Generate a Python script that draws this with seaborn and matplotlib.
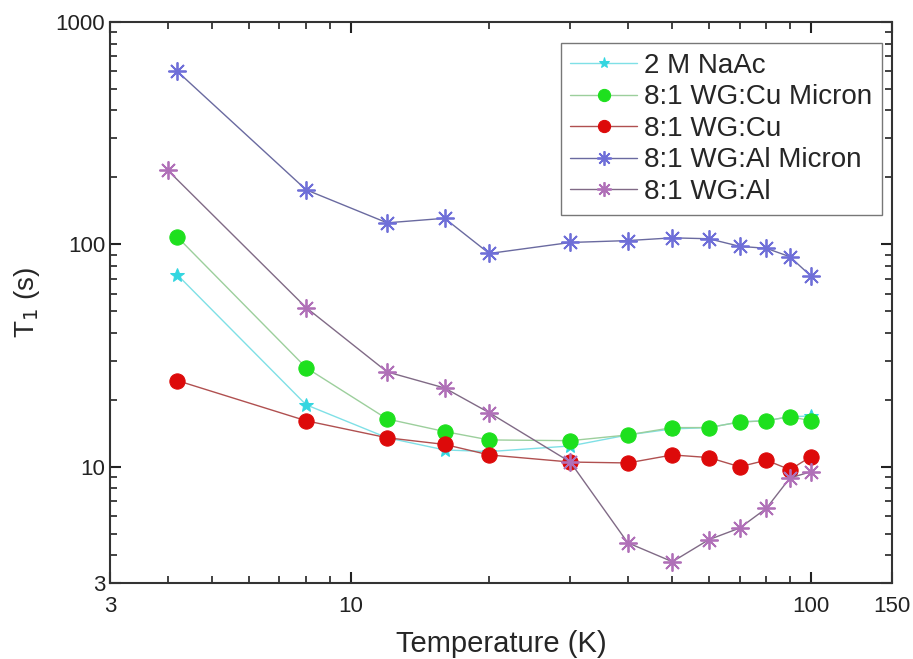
import numpy as np
import pandas as pd
import matplotlib
matplotlib.use('Agg')
import matplotlib.pyplot as plt
import seaborn as sns
from matplotlib.ticker import FixedLocator, LogLocator, NullFormatter, FixedFormatter

# =====================
# Data
# =====================
temp_a = [4.2, 8, 12, 16, 20, 30, 40, 50, 60, 70, 80, 90, 100]
temp_al = [4.0, 8, 12, 16, 20, 30, 40, 50, 60, 70, 80, 90, 100]

naac = [73, 19.0, 13.5, 11.9, 11.7, 12.4, 13.9, 14.8, 15.0, 15.9, 16.1, 16.8, 16.9]
cu_micron = [108, 27.9, 16.4, 14.4, 13.2, 13.1, 13.9, 15.0, 15.0, 15.9, 16.1, 16.8, 16.1]
cu = [24.4, 16.1, 13.5, 12.6, 11.3, 10.5, 10.4, 11.3, 11.0, 10.0, 10.7, 9.7, 11.1]
al_micron = [600, 176, 125, 131, 91, 102, 104, 107, 106, 98, 96, 88, 72]
al = [216, 52, 26.7, 22.6, 17.5, 10.5, 4.55, 3.74, 4.7, 5.3, 6.5, 8.9, 9.5]

x_ticks = [3, 10, 100, 150]
y_ticks = [3, 10, 100, 1000]

# =====================
# Style
# =====================
sns.set_style('ticks')
plt.rcParams['font.family'] = ['Liberation Sans', 'DejaVu Sans']
plt.rcParams['xtick.direction'] = 'in'
plt.rcParams['ytick.direction'] = 'in'

fig = plt.figure(figsize=(9.13, 6.59), dpi=100)
ax = fig.add_axes([0.1205, 0.1153, 0.8565, 0.8513])

series = [
    (temp_a, naac, '2 M NaAc', dict(marker='*', color='#7fe0e6', markerfacecolor='#33d6e0',
                                     markeredgecolor='#33d6e0', markersize=10)),
    (temp_a, cu_micron, '8:1 WG:Cu Micron', dict(marker='o', color='#9ccf9c', markerfacecolor='#1ee01e',
                                                  markeredgecolor='#1ee01e', markersize=11)),
    (temp_a, cu, '8:1 WG:Cu', dict(marker='o', color='#b05050', markerfacecolor='#dd0a0a',
                                    markeredgecolor='#dd0a0a', markersize=11)),
    (temp_a, al_micron, '8:1 WG:Al Micron', dict(marker=(8, 2, 0), color='#6a6aa0', markerfacecolor='#20207a',
                                                  markeredgecolor='#6f6fd8', markersize=13, markeredgewidth=1.3)),
    (temp_al, al, '8:1 WG:Al', dict(marker=(8, 2, 0), color='#806a86', markerfacecolor='#5a1a5a',
                                     markeredgecolor='#b070b8', markersize=13, markeredgewidth=1.3)),
]

for xs, ys, name, kw in series:
    df = pd.DataFrame({'T': xs, 'T1': ys})
    sns.lineplot(data=df, x='T', y='T1', ax=ax, label=name, linewidth=1.0, **kw)

ax.set_xscale('log')
ax.set_yscale('log')
ax.set_xlim(3, 150)
ax.set_ylim(3, 1000)

ax.xaxis.set_major_locator(FixedLocator(x_ticks))
ax.xaxis.set_major_formatter(FixedFormatter([str(t) for t in x_ticks]))
ax.xaxis.set_minor_locator(LogLocator(base=10, subs=np.arange(2, 10)))
ax.xaxis.set_minor_formatter(NullFormatter())
ax.yaxis.set_major_locator(FixedLocator(y_ticks))
ax.yaxis.set_major_formatter(FixedFormatter([str(t) for t in y_ticks]))
ax.yaxis.set_minor_locator(LogLocator(base=10, subs=np.arange(2, 10)))
ax.yaxis.set_minor_formatter(NullFormatter())

ax.tick_params(which='both', top=True, right=True, labelsize=16, colors='#222222')
ax.tick_params(which='major', length=8, width=1.5)
ax.tick_params(which='minor', length=5, width=1.2)
ax.tick_params(axis='x', which='major', pad=9)
for s in ax.spines.values():
    s.set_linewidth(1.5)
    s.set_color('#333333')

ax.set_xlabel('Temperature (K)', fontsize=21, labelpad=10)
ax.set_ylabel('T$_1$ (s)', fontsize=20, labelpad=10)

leg = ax.legend(loc='upper right', bbox_to_anchor=(0.987, 0.9626), borderaxespad=0,
                fontsize=20, frameon=True, fancybox=False, edgecolor='#555555',
                handlelength=2.4, labelspacing=0.2, handletextpad=0.25,
                borderpad=0.35, markerscale=0.8)
leg.get_frame().set_linewidth(1.0)

fig.savefig('out.png', dpi=100)
